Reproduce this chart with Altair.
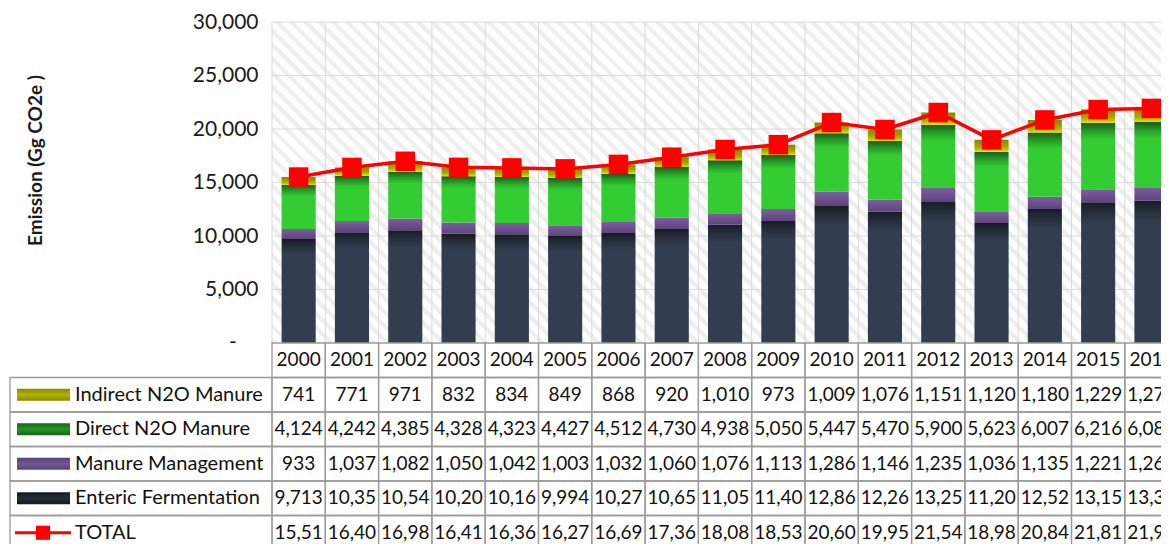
import altair as alt
import pandas as pd

# ---------------- data ----------------
years = list(range(2000, 2017))
indirect_n2o = [741, 771, 971, 832, 834, 849, 868, 920, 1010, 973, 1009, 1076, 1151, 1120, 1180, 1229, 1274]
direct_n2o = [4124, 4242, 4385, 4328, 4323, 4427, 4512, 4730, 4938, 5050, 5447, 5470, 5900, 5623, 6007, 6216, 6085]
manure_mgmt = [933, 1037, 1082, 1050, 1042, 1003, 1032, 1060, 1076, 1113, 1286, 1146, 1235, 1036, 1135, 1221, 1260]
enteric = [9713, 10355, 10545, 10205, 10165, 9994, 10279, 10655, 11058, 11401, 12863, 12263, 13256, 11205, 12524, 13152, 13305]
y_ticks = [0, 5000, 10000, 15000, 20000, 25000, 30000]
zero_label = "-"

series_names = ["Indirect N2O Manure", "Direct N2O Manure", "Manure Management", "Enteric Fermentation"]
total_name = "TOTAL"
series_values = [indirect_n2o, direct_n2o, manure_mgmt, enteric]
stack_order = {"Enteric Fermentation": 0, "Manure Management": 1, "Direct N2O Manure": 2, "Indirect N2O Manure": 3}
totals = [a + b + c + d for a, b, c, d in zip(*series_values)]

# ---------------- layout / style ----------------
FONT = "Lato"
W, H = 889, 522
PLOT_H = 321
COL = 53.3
ROW_H = 34.5
table_rows = ["hdr"] + series_names + [total_name]
TABLE_BOTTOM = PLOT_H + ROW_H * len(table_rows)

xscale = alt.Scale(domain=years, range=[0, COL * len(years)], paddingInner=0, paddingOuter=0)
yscale = alt.Scale(domain=[y_ticks[0], y_ticks[-1]], range=[PLOT_H, 0], nice=False)
tscale = alt.Scale(type="band", domain=table_rows, range=[PLOT_H, TABLE_BOTTOM], paddingInner=0, paddingOuter=0)

yaxis = alt.Axis(
    values=y_ticks, format=",d", grid=False, ticks=False, domain=True, domainColor="#bfbfbf",
    labelExpr="datum.value == 0 ? '' : datum.label",
    labelFont=FONT, labelFontSize=21, labelColor="#1a1a1a", labelPadding=14,
    title="Emission (Gg CO2e )", titleFont=FONT, titleFontSize=19, titleFontWeight="bold",
    titleColor="#1a1a1a", titleX=-237, titleY=138, titleAngle=270, titleAlign="center",
    titleBaseline="middle",
)


def vgrad(stops):
    return {"gradient": "linear", "x1": 0, "y1": 0, "x2": 0, "y2": 1,
            "stops": [{"offset": o, "color": c} for o, c in stops]}


def hatch():
    r = PLOT_H / W
    k = (1 + r) / (1 + r * r)
    span = W + PLOT_H
    n = int(span / 14)
    stops = []
    for i in range(n):
        a, b, c = i / n, (i + 0.42) / n, (i + 1) / n
        stops += [{"offset": a, "color": "#eeeeee"}, {"offset": b, "color": "#eeeeee"},
                  {"offset": b, "color": "#ffffff"}, {"offset": c, "color": "#ffffff"}]
    return {"gradient": "linear", "x1": 0, "y1": 1, "x2": k, "y2": 1 - r * k, "stops": stops}


bar_fills = {
    "Enteric Fermentation": vgrad([(0, "#161b23"), (0.07, "#262e3c"), (0.15, "#323d4f"), (1, "#323d4f")]),
    "Manure Management": vgrad([(0, "#7d5f9c"), (0.5, "#6d5090"), (1, "#5f4479")]),
    "Direct N2O Manure": vgrad([(0, "#1b5a1b"), (0.12, "#259a25"), (0.25, "#33cc33"), (1, "#33cc33")]),
    "Indirect N2O Manure": vgrad([(0, "#878700"), (0.55, "#a3a300"), (0.85, "#c8c800"), (1, "#e6e600")]),
}
swatch_fills = {
    "Indirect N2O Manure": vgrad([(0, "#8a8a00"), (0.5, "#b3b300"), (1, "#8a8a00")]),
    "Direct N2O Manure": vgrad([(0, "#166516"), (0.5, "#249624"), (1, "#166516")]),
    "Manure Management": vgrad([(0, "#5c4277"), (0.5, "#725594"), (1, "#5c4277")]),
    "Enteric Fermentation": vgrad([(0, "#14181f"), (0.5, "#262d39"), (1, "#14181f")]),
}

# ---------------- tables ----------------
long_rows = []
for name, vals in zip(series_names, series_values):
    for yr, v in zip(years, vals):
        long_rows.append({"year": yr, "series": name, "value": v, "order": stack_order[name]})
long_df = pd.DataFrame(long_rows)
total_df = pd.DataFrame({"year": years, "total": totals})
grid_df = pd.DataFrame({"t": y_ticks[1:]})
vgrid_df = pd.DataFrame({"year": years, "lo": y_ticks[0], "hi": y_ticks[-1]})
bg_df = pd.DataFrame({"lo": [y_ticks[0]], "hi": [y_ticks[-1]]})
zero_df = pd.DataFrame({"t": [y_ticks[0]], "label": [zero_label]})

text_rows = [{"year": yr, "row": "hdr", "label": str(yr)} for yr in years]
for name, vals in zip(series_names + [total_name], series_values + [totals]):
    for yr, v in zip(years, vals):
        text_rows.append({"year": yr, "row": name, "label": f"{v:,}"[:5]})
text_df = pd.DataFrame(text_rows)
cell_df = pd.DataFrame([{"year": yr, "row": r} for r in table_rows for yr in years])
rowlab_df = pd.DataFrame({"row": series_names + [total_name]})

X = alt.X("year:O", scale=xscale, axis=None)

# ---------------- plot group ----------------
bg = alt.Chart(bg_df).mark_rect(fill=hatch()).encode(
    x=alt.value(0), x2=alt.value("width"),
    y=alt.Y("lo:Q", scale=yscale, axis=yaxis), y2="hi:Q")
hgrid = alt.Chart(grid_df).mark_rule(color="#d9d9d9", strokeWidth=1).encode(
    x=alt.value(0), x2=alt.value("width"), y=alt.Y("t:Q", scale=yscale, axis=yaxis))
vgrid = alt.Chart(vgrid_df).mark_rule(color="#d9d9d9", strokeWidth=1).encode(
    x=alt.X("year:O", scale=xscale, axis=None, bandPosition=0),
    y=alt.Y("lo:Q", scale=yscale, axis=yaxis), y2="hi:Q")
zero_txt = alt.Chart(zero_df).mark_text(font=FONT, fontSize=21, color="#1a1a1a", align="center",
                                        baseline="middle").encode(
    x=alt.value(-39), y=alt.Y("t:Q", scale=yscale, axis=yaxis), text="label:N")

stacked = alt.Chart(long_df).transform_stack(
    stack="value", groupby=["year"], sort=[alt.SortField("order", order="ascending")], as_=["v0", "v1"])
bar_layers = []
for name in ["Enteric Fermentation", "Manure Management", "Direct N2O Manure", "Indirect N2O Manure"]:
    bar_layers.append(
        stacked.transform_filter(alt.datum.series == name)
        .mark_bar(fill=bar_fills[name], width=alt.RelativeBandSize(0.64))
        .encode(x=X, y=alt.Y("v0:Q", scale=yscale, axis=yaxis), y2="v1:Q"))

tline = alt.Chart(total_df).mark_line(color="#ff0000", strokeWidth=3.5).encode(
    x=X, y=alt.Y("total:Q", scale=yscale, axis=yaxis))
tpts = alt.Chart(total_df).mark_square(size=380, color="#ff0000", opacity=1).encode(
    x=X, y=alt.Y("total:Q", scale=yscale, axis=yaxis))

plot_group = alt.layer(bg, hgrid, vgrid, zero_txt, *bar_layers, tline, tpts)

# ---------------- table group ----------------
TY = alt.Y("row:N", scale=tscale, axis=None)
cells = alt.Chart(cell_df).mark_rect(fill="white", fillOpacity=0, stroke="#9a9a9a", strokeWidth=1.3).encode(
    x=X, y=TY)
left_cells = alt.Chart(rowlab_df).mark_rect(fill="white", fillOpacity=0, stroke="#9a9a9a", strokeWidth=1.3).encode(
    x=alt.value(-262), x2=alt.value(0), y=TY)
cell_text = alt.Chart(text_df).mark_text(font=FONT, fontSize=19, color="#111111", baseline="middle").encode(
    x=alt.X("year:O", scale=xscale, axis=None, bandPosition=0.5),
    y=alt.Y("row:N", scale=tscale, axis=None, bandPosition=0.5), text="label:N")
row_text = alt.Chart(rowlab_df).mark_text(font=FONT, fontSize=20, color="#111111", align="left", baseline="middle").encode(
    x=alt.value(-197), y=alt.Y("row:N", scale=tscale, axis=None, bandPosition=0.5), text="row:N")

swatches = []
for name in series_names:
    swatches.append(
        alt.Chart(rowlab_df).transform_filter(alt.datum.row == name)
        .mark_bar(orient="horizontal", height=12, fill=swatch_fills[name])
        .encode(x=alt.value(-255), x2=alt.value(-202), y=TY))
tot_sw_line = alt.Chart(rowlab_df).transform_filter(alt.datum.row == total_name).mark_rule(
    color="#ff0000", strokeWidth=3).encode(x=alt.value(-257), x2=alt.value(-201),
                                           y=alt.Y("row:N", scale=tscale, axis=None, bandPosition=0.5))
tot_sw_pt = alt.Chart(rowlab_df).transform_filter(alt.datum.row == total_name).mark_square(
    size=200, color="#ff0000", opacity=1).encode(x=alt.value(-229),
                                                 y=alt.Y("row:N", scale=tscale, axis=None, bandPosition=0.5))

table_group = alt.layer(cells, left_cells, cell_text, row_text, *swatches, tot_sw_line, tot_sw_pt)

chart = (
    alt.layer(plot_group, table_group)
    .resolve_scale(y="independent")
    .properties(width=W, height=H, padding={"left": 264, "top": 14, "right": 0, "bottom": 0},
                autosize=alt.AutoSizeParams(type="none"), background="white")
    .configure_view(stroke=None)
)

chart.save("out.html", embed_options={"renderer": "svg", "actions": False})
